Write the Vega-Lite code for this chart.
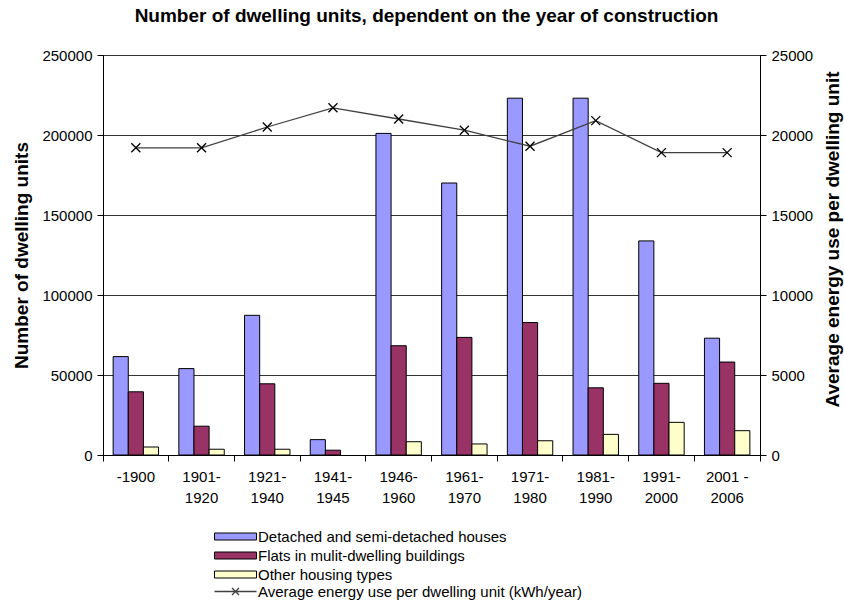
{
  "$schema": "https://vega.github.io/schema/vega-lite/v6.json",
  "width": 657,
  "height": 400,
  "autosize": {"type": "none"},
  "padding": {"left": 103, "top": 55, "right": 84, "bottom": 149},
  "background": "white",
  "title": {
    "text": "Number of dwelling units, dependent on the year of construction",
    "font": "Liberation Sans",
    "fontSize": 19,
    "fontWeight": "bold",
    "color": "black",
    "anchor": "middle",
    "dx": -5,
    "offset": 22
  },
  "config": {
    "view": {"stroke": "black", "strokeWidth": 1},
    "font": "Liberation Sans"
  },
  "datasets": {
    "bars": [
      {"period": "-1900", "type": "Detached and semi-detached houses", "units": 61500},
      {"period": "1901-|1920", "type": "Detached and semi-detached houses", "units": 54000},
      {"period": "1921-|1940", "type": "Detached and semi-detached houses", "units": 87300},
      {"period": "1941-|1945", "type": "Detached and semi-detached houses", "units": 9600},
      {"period": "1946-|1960", "type": "Detached and semi-detached houses", "units": 201000},
      {"period": "1961-|1970", "type": "Detached and semi-detached houses", "units": 170000},
      {"period": "1971-|1980", "type": "Detached and semi-detached houses", "units": 223000},
      {"period": "1981-|1990", "type": "Detached and semi-detached houses", "units": 223000},
      {"period": "1991-|2000", "type": "Detached and semi-detached houses", "units": 133800},
      {"period": "2001 -|2006", "type": "Detached and semi-detached houses", "units": 73000},
      {"period": "-1900", "type": "Flats in mulit-dwelling buildings", "units": 39500},
      {"period": "1901-|1920", "type": "Flats in mulit-dwelling buildings", "units": 18000},
      {"period": "1921-|1940", "type": "Flats in mulit-dwelling buildings", "units": 44500},
      {"period": "1941-|1945", "type": "Flats in mulit-dwelling buildings", "units": 3000},
      {"period": "1946-|1960", "type": "Flats in mulit-dwelling buildings", "units": 68300},
      {"period": "1961-|1970", "type": "Flats in mulit-dwelling buildings", "units": 73500},
      {"period": "1971-|1980", "type": "Flats in mulit-dwelling buildings", "units": 82800},
      {"period": "1981-|1990", "type": "Flats in mulit-dwelling buildings", "units": 42000},
      {"period": "1991-|2000", "type": "Flats in mulit-dwelling buildings", "units": 44800},
      {"period": "2001 -|2006", "type": "Flats in mulit-dwelling buildings", "units": 58100},
      {"period": "-1900", "type": "Other housing types", "units": 5000},
      {"period": "1901-|1920", "type": "Other housing types", "units": 3600},
      {"period": "1921-|1940", "type": "Other housing types", "units": 3600},
      {"period": "1946-|1960", "type": "Other housing types", "units": 8300},
      {"period": "1961-|1970", "type": "Other housing types", "units": 6900},
      {"period": "1971-|1980", "type": "Other housing types", "units": 8900},
      {"period": "1981-|1990", "type": "Other housing types", "units": 12900},
      {"period": "1991-|2000", "type": "Other housing types", "units": 20400},
      {"period": "2001 -|2006", "type": "Other housing types", "units": 15200}
    ],
    "energy": [
      {"period": "-1900", "energy": 19200},
      {"period": "1901-|1920", "energy": 19200},
      {"period": "1921-|1940", "energy": 20500},
      {"period": "1941-|1945", "energy": 21700},
      {"period": "1946-|1960", "energy": 21000},
      {"period": "1961-|1970", "energy": 20300},
      {"period": "1971-|1980", "energy": 19300},
      {"period": "1981-|1990", "energy": 20900},
      {"period": "1991-|2000", "energy": 18900},
      {"period": "2001 -|2006", "energy": 18900}
    ]
  },
  "resolve": {"scale": {"y": "independent"}},
  "layer": [
    {
      "data": {"name": "bars"},
      "mark": {"type": "bar", "stroke": "black", "strokeWidth": 1},
      "encoding": {
        "x": {
          "field": "period",
          "type": "nominal",
          "sort": ["-1900", "1901-|1920", "1921-|1940", "1941-|1945", "1946-|1960", "1961-|1970", "1971-|1980", "1981-|1990", "1991-|2000", "2001 -|2006"],
          "scale": {"paddingInner": 0, "paddingOuter": 0},
          "axis": {
            "title": null,
            "labelAngle": 0,
            "bandPosition": 1,
            "tickExtra": true,
            "tickSize": 6,
            "tickColor": "black",
            "domainColor": "black",
            "labelExpr": "split(datum.label, '|')",
            "labelFont": "Liberation Sans",
            "labelFontSize": 15,
            "labelColor": "black",
            "labelLineHeight": 21,
            "labelPadding": 8,
            "grid": false
          }
        },
        "xOffset": {
          "field": "type",
          "type": "nominal",
          "sort": ["Detached and semi-detached houses", "Flats in mulit-dwelling buildings", "Other housing types"],
          "scale": {"paddingInner": 0, "paddingOuter": 0.67}
        },
        "y": {
          "field": "units",
          "type": "quantitative",
          "scale": {"domain": [0, 250000]},
          "axis": {
            "title": "Number of dwelling units",
            "titleFont": "Liberation Sans",
            "titleFontSize": 19,
            "titleFontWeight": "bold",
            "titleColor": "black",
            "titlePadding": 10,
            "values": [0, 50000, 100000, 150000, 200000, 250000],
            "format": "d",
            "labelFont": "Liberation Sans",
            "labelFontSize": 15,
            "labelColor": "black",
            "labelFlush": false,
            "labelPadding": 5,
            "tickSize": 6,
            "tickColor": "black",
            "domainColor": "black",
            "grid": true,
            "gridColor": "#333333",
            "gridOpacity": 1
          }
        },
        "fill": {
          "field": "type",
          "type": "nominal",
          "scale": {
            "domain": ["Detached and semi-detached houses", "Flats in mulit-dwelling buildings", "Other housing types"],
            "range": ["#9999FF", "#993366", "#FFFFCC"]
          },
          "legend": {
            "title": null,
            "orient": "none",
            "legendX": 125,
            "legendY": 474,
            "direction": "vertical",
            "padding": 0,
            "rowPadding": 3,
            "symbolType": "M-4.2,-0.7H4.2V0.7H-4.2Z",
            "symbolSize": 100,
            "symbolStrokeColor": "black",
            "symbolStrokeWidth": 1,
            "symbolOpacity": 1,
            "labelOffset": 15,
            "labelFont": "Liberation Sans",
            "labelFontSize": 15,
            "labelColor": "black",
            "labelLimit": 500
          }
        }
      }
    },
    {
      "data": {"name": "energy"},
      "encoding": {
        "x": {
          "field": "period",
          "type": "nominal",
          "sort": ["-1900", "1901-|1920", "1921-|1940", "1941-|1945", "1946-|1960", "1961-|1970", "1971-|1980", "1981-|1990", "1991-|2000", "2001 -|2006"]
        },
        "y": {
          "field": "energy",
          "type": "quantitative",
          "scale": {"domain": [0, 25000]},
          "axis": {
            "orient": "right",
            "title": "Average energy use per dwelling unit",
            "titleFont": "Liberation Sans",
            "titleFontSize": 19,
            "titleFontWeight": "bold",
            "titleColor": "black",
            "titleAngle": -90,
            "titleBaseline": "top",
            "titleY": 184,
            "titlePadding": 11,
            "values": [0, 5000, 10000, 15000, 20000, 25000],
            "format": "d",
            "labelFont": "Liberation Sans",
            "labelFontSize": 15,
            "labelColor": "black",
            "labelFlush": false,
            "labelPadding": 5,
            "tickSize": 6,
            "tickColor": "black",
            "domainColor": "black",
            "grid": false
          }
        }
      },
      "layer": [
        {
          "mark": {"type": "line", "strokeWidth": 1.3},
          "encoding": {
            "stroke": {
              "datum": "Average energy use per dwelling unit (kWh/year)",
              "type": "nominal",
              "scale": {"range": ["#404040"]},
              "legend": {
                "title": null,
                "orient": "none",
                "legendX": 125,
                "legendY": 529,
                "padding": 0,
                "symbolType": "M-4.2,0H4.2M-0.7,-0.7L0.7,0.7M-0.7,0.7L0.7,-0.7",
                "symbolSize": 100,
                "symbolStrokeWidth": 1.3,
                "symbolStrokeColor": "black",
                "symbolFillColor": "transparent",
                "labelOffset": 15,
                "labelFont": "Liberation Sans",
                "labelFontSize": 15,
                "labelColor": "black",
                "labelLimit": 500
              }
            }
          }
        },
        {
          "mark": {
            "type": "point",
            "shape": "M-1,-1L1,1M-1,1L1,-1",
            "size": 81,
            "filled": false,
            "stroke": "black",
            "strokeWidth": 1.3,
            "opacity": 1
          },
          "encoding": {}
        }
      ]
    }
  ]
}
